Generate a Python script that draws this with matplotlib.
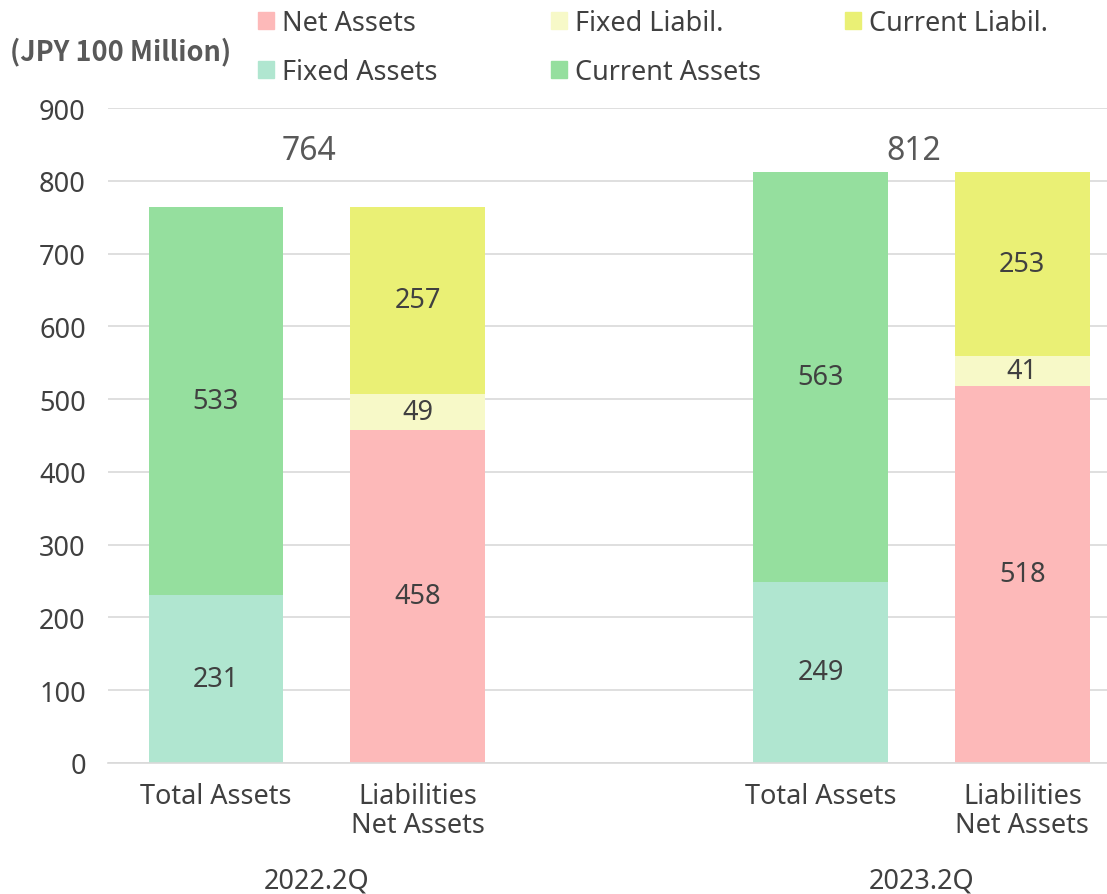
import numpy as np
import matplotlib.pyplot as plt
from matplotlib.patches import Patch

plt.rcParams['font.family'] = ['Noto Sans', 'DejaVu Sans']

# data (JPY 100 million)
periods = ['2022.2Q', '2023.2Q']
fixed_assets = [231, 249]
current_assets = [533, 563]
net_assets = [458, 518]
fixed_liab = [49, 41]
current_liab = [257, 253]
totals = [764, 812]
bar_names = ['Total Assets', 'Liabilities\nNet Assets']

c_net = '#FDB9B9'
c_fliab = '#F7F9C8'
c_cliab = '#EAF075'
c_fasset = '#B0E6D0'
c_casset = '#95DF9E'
txt = '#404040'

fig = plt.figure(figsize=(11.07, 8.95), dpi=100)
ax = fig.add_axes([0.0976, 0.1464, 0.9024, 0.7318])

w = 0.668
asset_x = np.array([0, 3])
liab_x = np.array([1, 4])

ax.bar(asset_x, fixed_assets, w, color=c_fasset, zorder=2)
ax.bar(asset_x, current_assets, w, bottom=fixed_assets, color=c_casset, zorder=2)
ax.bar(liab_x, net_assets, w, color=c_net, zorder=2)
b2 = np.array(net_assets) + np.array(fixed_liab)
ax.bar(liab_x, fixed_liab, w, bottom=net_assets, color=c_fliab, zorder=2)
ax.bar(liab_x, current_liab, w, bottom=b2, color=c_cliab, zorder=2)

fs = 19.5
for i in range(2):
    ax.text(asset_x[i], fixed_assets[i] / 2, str(fixed_assets[i]), ha='center', va='center', fontsize=fs, color=txt)
    ax.text(asset_x[i], fixed_assets[i] + current_assets[i] / 2, str(current_assets[i]), ha='center', va='center', fontsize=fs, color=txt)
    ax.text(liab_x[i], net_assets[i] / 2, str(net_assets[i]), ha='center', va='center', fontsize=fs, color=txt)
    ax.text(liab_x[i], net_assets[i] + fixed_liab[i] / 2, str(fixed_liab[i]), ha='center', va='center', fontsize=fs, color=txt)
    ax.text(liab_x[i], b2[i] + current_liab[i] / 2, str(current_liab[i]), ha='center', va='center', fontsize=fs, color=txt)
    ax.text((asset_x[i] + liab_x[i]) / 2 - 0.04, 842, str(totals[i]), ha='center', va='center', fontsize=23, color='#595959')

ax.set_xlim(-0.535, 4.42)
ax.set_ylim(0, 900)
ax.set_yticks(np.arange(0, 901, 100))
ax.yaxis.grid(True, color='#D9D9D9', linewidth=1.2, zorder=0)
ax.set_axisbelow(True)
for s in ['top', 'right', 'left']:
    ax.spines[s].set_visible(False)
ax.spines['bottom'].set_color('#D9D9D9')
ax.spines['bottom'].set_linewidth(1.2)
ax.tick_params(axis='y', length=0, labelsize=fs, labelcolor=txt, pad=16)
ax.set_xticks(list(asset_x) + list(liab_x))
ax.set_xticklabels([bar_names[0]] * 2 + [bar_names[1]] * 2, fontsize=fs, color=txt, linespacing=1.05, va='top')
ax.tick_params(axis='x', length=0, pad=14)

for i, p in enumerate(periods):
    ax.text((asset_x[i] + liab_x[i]) / 2, -0.18, p, transform=ax.get_xaxis_transform(),
            ha='center', va='center', fontsize=fs, color=txt)

fig.text(0.009, 0.942, '(JPY 100 Million)', ha='left', va='center', fontsize=19.5, color='#595959',
         fontweight='bold', family=['Noto Sans CJK JP', 'DejaVu Sans'])

# legend, laid out as three columns like the original
cols = [
    [Patch(color=c_net, label='Net Assets'), Patch(color=c_fasset, label='Fixed Assets')],
    [Patch(color=c_fliab, label='Fixed Liabil.'), Patch(color=c_casset, label='Current Assets')],
    [Patch(color=c_cliab, label='Current Liabil.')],
]
col_x = [258, 551, 845]
for hs, x in zip(cols, col_x):
    leg = fig.legend(handles=hs, loc='upper left', bbox_to_anchor=(x / 1107, 1 - 10 / 895),
                     frameon=False, fontsize=fs, handlelength=0.6, handleheight=0.6,
                     handletextpad=0.3, labelspacing=0.78, borderpad=0, borderaxespad=0)
    for t in leg.get_texts():
        t.set_color(txt)

fig.savefig('out.png', dpi=100)
